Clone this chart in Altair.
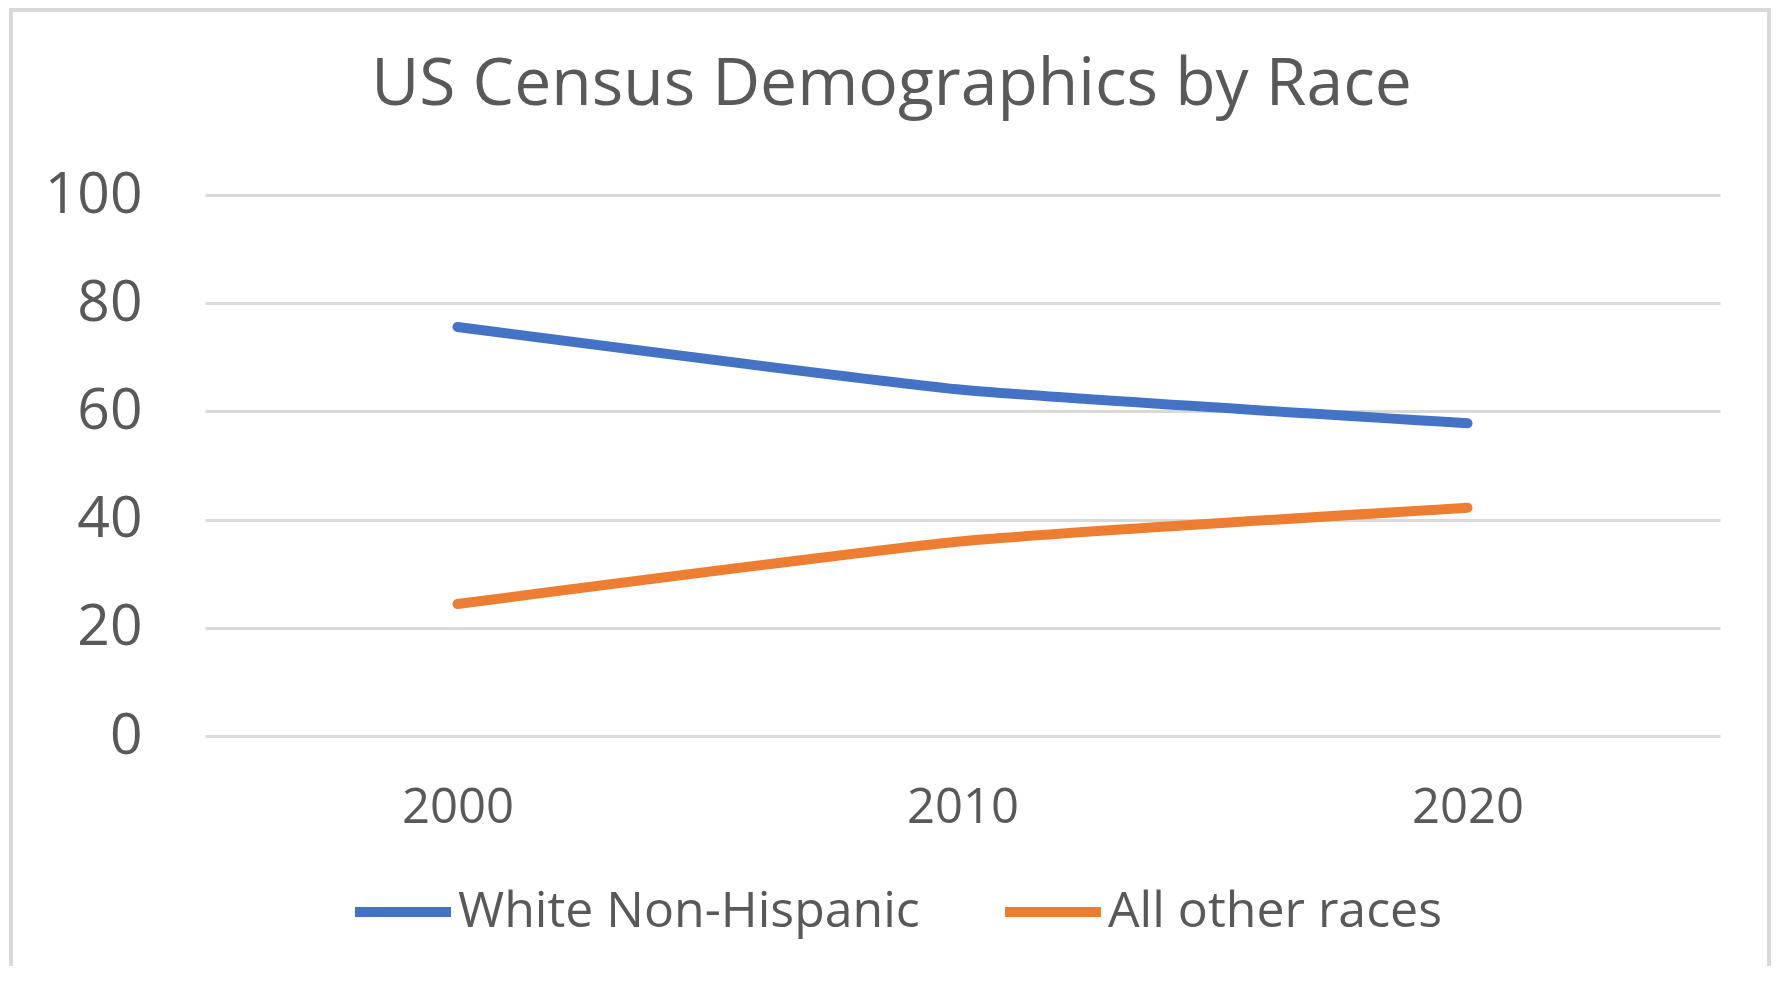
import altair as alt
import pandas as pd

years = ["2000", "2010", "2020"]
white_non_hispanic = [75.6, 64.0, 57.8]
all_other_races = [24.4, 36.0, 42.2]
series_names = ["White Non-Hispanic", "All other races"]
series_colors = ["#4472C4", "#ED7D31"]
y_ticks = [0, 20, 40, 60, 80, 100]

rows = []
for name, vals in zip(series_names, [white_non_hispanic, all_other_races]):
    for yr, v in zip(years, vals):
        rows.append({"Year": yr, "Series": name, "Value": v})
df = pd.DataFrame(rows)

FONT = "Open Sans"
GREY = "#595959"
PW, PH = 1515, 541

lines = alt.Chart(df).mark_line(
    strokeWidth=10, strokeCap="round", strokeJoin="round",
    interpolate="cardinal", tension=0.55
).encode(
    x=alt.X("Year:N", sort=years,
            scale=alt.Scale(type="point", padding=0.5),
            axis=alt.Axis(title=None, labelAngle=0, labelFontSize=49, labelColor=GREY,
                          labelFont=FONT, domain=False, ticks=False, tickSize=0,
                          labelPadding=47, grid=False)),
    y=alt.Y("Value:Q", scale=alt.Scale(domain=[0, 100], nice=False),
            axis=alt.Axis(title=None, values=y_ticks, labelFontSize=57, labelColor=GREY,
                          labelFont=FONT, domain=False, ticks=False, tickSize=0,
                          labelPadding=63, grid=True, gridColor="#d9d9d9", gridWidth=3)),
    color=alt.Color("Series:N",
                    scale=alt.Scale(domain=series_names, range=series_colors),
                    legend=alt.Legend(title=None, orient="none", direction="horizontal",
                                      legendX=145, legendY=664,
                                      symbolType="stroke", symbolSize=9216,
                                      symbolStrokeWidth=10, labelFontSize=50,
                                      labelFont=FONT, labelColor=GREY, labelOffset=2,
                                      labelLimit=800, columnPadding=65, padding=0)),
)

border = alt.Chart(alt.Data(values=[{"b": 1}])).mark_rect(
    fill=None, stroke="#d9d9d9", strokeWidth=4
).encode(
    x=alt.value(-194), x2=alt.value(1564), y=alt.value(-185), y2=alt.value(820)
)

chart = alt.layer(border, lines).properties(
    width=PW, height=PH,
    padding={"left": 197, "top": 187, "right": 51, "bottom": 230},
    autosize=alt.AutoSizeParams(type="none"),
    title=alt.TitleParams("US Census Demographics by Race", fontSize=66, font=FONT,
                          color=GREY, fontWeight="normal", anchor="middle",
                          dx=-71, offset=-163, baseline="alphabetic"),
).configure(background="white", view=alt.ViewConfig(strokeWidth=0, stroke="transparent"))

chart.save("out.html", embed_options={"renderer": "svg", "actions": False})
